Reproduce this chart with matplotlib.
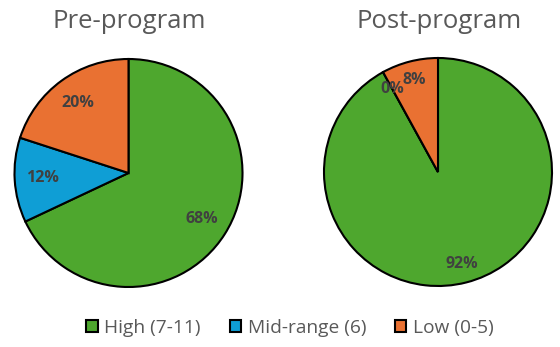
import matplotlib.pyplot as plt
from matplotlib.patches import Patch

# score bands and share of participants in each, before and after the program
categories = ['High (7-11)', 'Mid-range (6)', 'Low (0-5)']
pre_program = [68, 12, 20]
post_program = [92, 0, 8]
titles = ['Pre-program', 'Post-program']
colors = ['#4EA72E', '#0F9ED5', '#E97132']

plt.rcParams['font.family'] = ['Open Sans', 'DejaVu Sans']

W, H = 560, 347
R = 114      # pie radius in pixels
LIM = 1.05   # a little room so the outline isn't clipped

fig = plt.figure(figsize=(W / 100, H / 100), dpi=100)


def pie_axes(cx, cy):
    side = 2 * R * LIM
    ax = fig.add_axes([(cx - side / 2) / W, (H - cy - side / 2) / H, side / W, side / H])
    return ax


def draw_pie(ax, values, title, cx, pct_dist):
    ax.pie(values, colors=colors, startangle=90, counterclock=False,
           autopct='%1.0f%%', pctdistance=pct_dist,
           wedgeprops=dict(edgecolor='black', linewidth=1.5),
           textprops=dict(color='#404040', fontweight='bold', fontsize=11.5))
    ax.set_xlim(-LIM, LIM)
    ax.set_ylim(-LIM, LIM)
    ax.set_aspect('equal')
    fig.text(cx / W, 1 - 21 / H, title, ha='center', va='center',
             fontsize=18.5, color='#595959')


draw_pie(pie_axes(128.5, 173), pre_program, titles[0], 129, 0.76)
draw_pie(pie_axes(438, 172), post_program, titles[1], 439, 0.83)

handles = [Patch(facecolor=c, edgecolor='black', linewidth=1.5) for c in colors]
fig.legend(handles, categories, loc='center', bbox_to_anchor=(290 / W, 1 - 328 / H),
           ncol=3, frameon=False, handlelength=0.6, handleheight=0.6,
           handletextpad=0.35, columnspacing=1.5, fontsize=13.8, labelcolor='#595959')

fig.savefig('out.png', dpi=100)
